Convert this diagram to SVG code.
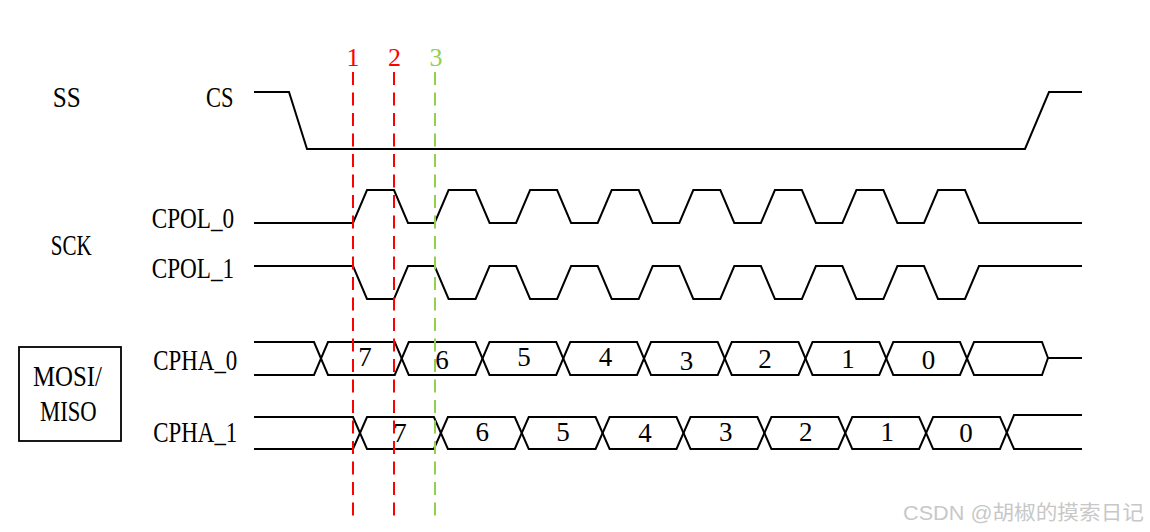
<svg xmlns="http://www.w3.org/2000/svg" width="1150" height="532" viewBox="0 0 1150 532">
<style>
.w{fill:none;stroke:#000;stroke-width:2;stroke-linejoin:miter}
.lbl{font-family:"Liberation Serif",serif;font-size:30px;fill:#000}
.dg{font-family:"Liberation Serif",serif;font-size:27px;fill:#000;text-anchor:middle}
.num{font-family:"Liberation Serif",serif;font-size:26px;text-anchor:middle}
.dr{fill:none;stroke:#ff0000;stroke-width:2;stroke-dasharray:13 7.5}
.dgn{fill:none;stroke:#92d050;stroke-width:2;stroke-dasharray:13 7.5}
</style>
<rect width="1150" height="532" fill="#fff"/>
<g id="labels">
<text class="lbl" x="52.7" y="107" textLength="28" lengthAdjust="spacingAndGlyphs">SS</text>
<text class="lbl" x="206" y="107" textLength="27.5" lengthAdjust="spacingAndGlyphs">CS</text>
<text class="lbl" x="50.7" y="255" textLength="41" lengthAdjust="spacingAndGlyphs">SCK</text>
<text class="lbl" x="151.7" y="228" textLength="82.5" lengthAdjust="spacingAndGlyphs">CPOL_0</text>
<text class="lbl" x="151.7" y="278" textLength="82.5" lengthAdjust="spacingAndGlyphs">CPOL_1</text>
<text class="lbl" x="153.3" y="370" textLength="84" lengthAdjust="spacingAndGlyphs">CPHA_0</text>
<text class="lbl" x="153.3" y="442" textLength="84" lengthAdjust="spacingAndGlyphs">CPHA_1</text>
</g>
<g id="mosi-miso">
<rect x="19" y="347" width="102" height="94" fill="none" stroke="#000" stroke-width="1.8"/>
<text class="lbl" x="33" y="386" textLength="69" lengthAdjust="spacingAndGlyphs">MOSI/</text>
<text class="lbl" x="40" y="421" textLength="56.7" lengthAdjust="spacingAndGlyphs">MISO</text>
</g>
<g id="cs">
<path class="w" d="M254,92 H289 L307,149 H1025 L1049,92 H1082"/>
</g>
<g id="cpol0">
<path class="w" d="M254,223 H353 L367,190 H394 L408,223 H434.6 L448.6,190 H475.6 L489.6,223 H516.1 L530.1,190 H557.1 L571.1,223 H597.7 L611.7,190 H638.7 L652.7,223 H679.3 L693.3,190 H720.3 L734.3,223 H760.9 L774.9,190 H801.9 L815.9,223 H842.4 L856.4,190 H883.4 L897.4,223 H924 L938,190 H965 L979,223 H1082"/>
</g>
<g id="cpol1">
<path class="w" d="M254,266 H353 L367,299 H394 L408,266 H434.6 L448.6,299 H475.6 L489.6,266 H516.1 L530.1,299 H557.1 L571.1,266 H597.7 L611.7,299 H638.7 L652.7,266 H679.3 L693.3,299 H720.3 L734.3,266 H760.9 L774.9,299 H801.9 L815.9,266 H842.4 L856.4,299 H883.4 L897.4,266 H924 L938,299 H965 L979,266 H1082"/>
</g>
<g id="cpha0">
<path class="w" d="M254,342 H314 L328,375 H394.75 L408.75,342 H475.5 L489.5,375 H556.25 L570.25,342 H637 L651,375 H717.75 L731.75,342 H798.5 L812.5,375 H879.25 L893.25,342 H960 L974,375 H1042 L1048,358 H1082"/>
<path class="w" d="M254,375 H314 L328,342 H394.75 L408.75,375 H475.5 L489.5,342 H556.25 L570.25,375 H637 L651,342 H717.75 L731.75,375 H798.5 L812.5,342 H879.25 L893.25,375 H960 L974,342 H1042 L1048,358"/>
<text class="dg" x="365" y="366">7</text>
<text class="dg" x="442" y="369">6</text>
<text class="dg" x="524" y="366">5</text>
<text class="dg" x="605.5" y="366">4</text>
<text class="dg" x="686.5" y="370">3</text>
<text class="dg" x="765" y="368">2</text>
<text class="dg" x="848" y="368">1</text>
<text class="dg" x="928.5" y="368.5">0</text>
</g>
<g id="cpha1">
<path class="w" d="M254,417 H353 L367,449 H433.9 L447.9,417 H514.75 L528.75,449 H595.6 L609.6,417 H676.5 L690.5,449 H757.4 L771.4,417 H838.25 L852.25,449 H919.1 L933.1,417 H1000 L1014,449 H1082"/>
<path class="w" d="M254,449 H353 L367,417 H433.9 L447.9,449 H514.75 L528.75,417 H595.6 L609.6,449 H676.5 L690.5,417 H757.4 L771.4,449 H838.25 L852.25,417 H919.1 L933.1,449 H1000 L1014,415 H1082"/>
<text class="dg" x="400" y="441.5">7</text>
<text class="dg" x="482.3" y="441">6</text>
<text class="dg" x="563" y="441">5</text>
<text class="dg" x="645" y="441.5">4</text>
<text class="dg" x="725.7" y="441">3</text>
<text class="dg" x="805.7" y="440.5">2</text>
<text class="dg" x="887.3" y="440.5">1</text>
<text class="dg" x="966" y="441.5">0</text>
</g>
<g id="markers">
<line class="dr" x1="353" y1="72" x2="353" y2="516"/>
<line class="dr" x1="394" y1="72" x2="394" y2="516"/>
<line class="dgn" x1="435" y1="72" x2="435" y2="516"/>
<text class="num" x="353" y="66" fill="#ff0000">1</text>
<text class="num" x="394.5" y="66" fill="#ff0000">2</text>
<text class="num" x="436" y="66" fill="#92d050">3</text>
</g>
<text x="903" y="520" font-family="'Liberation Sans','Noto Sans CJK SC',sans-serif" font-size="20" fill="#c8c8c8" textLength="241" lengthAdjust="spacingAndGlyphs">CSDN @胡椒的摸索日记</text>
</svg>
